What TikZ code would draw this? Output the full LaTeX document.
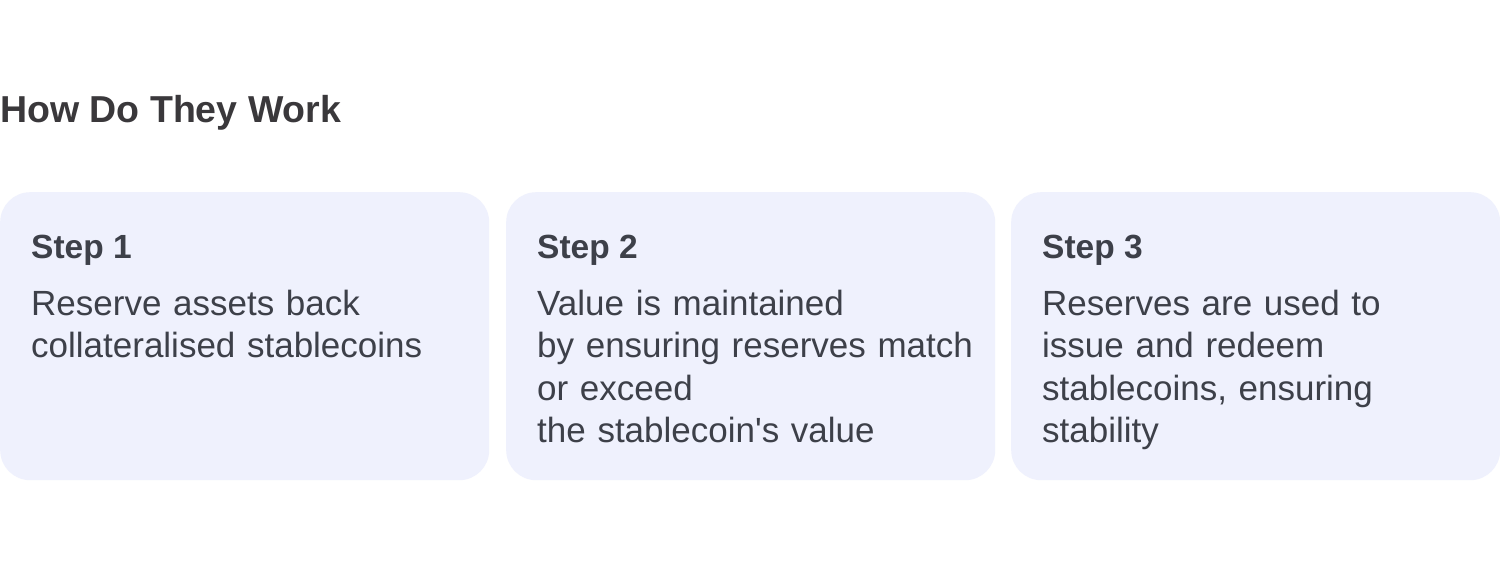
\documentclass[tikz,border=0pt]{standalone}
\usepackage{fontspec}
\newfontfamily\uifont{Liberation Sans}
\definecolor{cardfill}{HTML}{EFF1FD}
\definecolor{bodytext}{HTML}{3D4049}
\definecolor{titletext}{HTML}{3A383B}
\begin{document}
\begin{tikzpicture}[x=1pt,y=-1pt,
  card/.style={fill=cardfill, draw=none, rounded corners=30pt, minimum width=489pt, minimum height=288pt, inner sep=0pt, anchor=north west},
  steplabel/.style={anchor=base west, inner sep=0pt, text=bodytext, font={\uifont\bfseries\fontsize{33.5}{40}\selectfont}},
  stepbody/.style={anchor=base west, inner sep=0pt, text=bodytext, text width=440pt, align=left, font={\uifont\fontsize{35}{42.5}\selectfont}},
  heading/.style={anchor=base west, inner sep=0pt, text=titletext, font={\uifont\bfseries\fontsize{37.5}{44}\selectfont}}]
\useasboundingbox[fill=white] (0,0) rectangle (1500,574);
\node[heading] (title) at (0,122) {How Do They Work};
\node[card] (c1) at (0,192) {};
\node[card] (c2) at (506,192) {};
\node[card] (c3) at (1011,192) {};
\node[steplabel] (s1) at (31,258) {Step 1};
\node[steplabel] (s2) at (537,258) {Step 2};
\node[steplabel] (s3) at (1042,258) {Step 3};
\node[stepbody] (b1) at (31,315) {Reserve assets back\\collateralised stablecoins};
\node[stepbody] (b2) at (537,315) {Value is maintained\\by ensuring reserves match\\or exceed\\the stablecoin's value};
\node[stepbody] (b3) at (1042,315) {Reserves are used to\\issue and redeem\\stablecoins, ensuring\\stability};
\end{tikzpicture}
\end{document}
